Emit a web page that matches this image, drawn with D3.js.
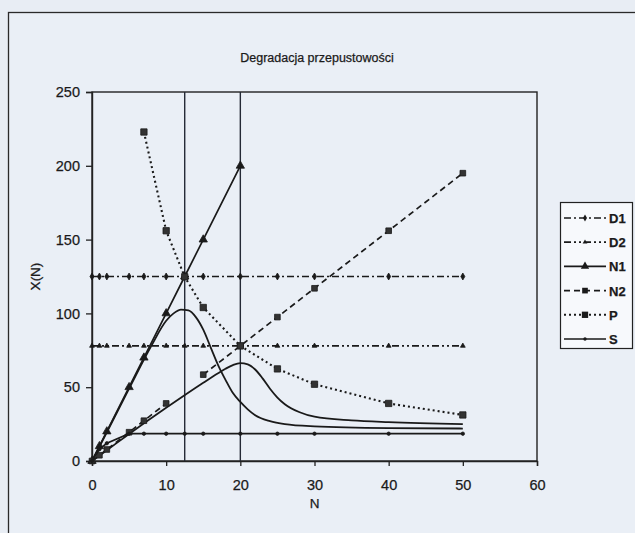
<!DOCTYPE html>
<html>
<head>
<meta charset="utf-8">
<script src="https://cdn.jsdelivr.net/npm/d3@7/dist/d3.min.js"></script>
<style>
  body { margin: 0; background: #e8edf4; }
  svg text { font-family: "Liberation Sans", Arial, sans-serif; fill: #1a1a1a; stroke: #1a1a1a; stroke-width: 0.25; }
</style>
</head>
<body>
<div id="chart"></div>
<script>
// N values shared by the marked series
const nValues = [0, 1, 2, 5, 7, 10, 12.5, 15, 20, 25, 30, 40, 50];

const d1Values = [125, 125, 125, 125, 125, 125, 125, 125, 125, 125, 125, 125, 125];
const d2Values = [78, 78, 78, 78, 78, 78, 78, 78, 78, 78, 78, 78, 78];
const n1Values = [0, 10, 20, 50, 70, 100, 125, 150, 200, null, null, null, null];
const n2Values = [0, 3.9, 7.8, 19.5, 27.3, 39, null, 58.5, 78, 97.5, 117, 156, 195];
const pValues = [null, null, null, null, 222.9, 156, 124.8, 104, 78, 62.4, 52, 39, 31.2];
const sValues = [0, 8, 12, 18.5, 18.5, 18.5, 18.5, 18.5, 18.5, 18.5, 18.5, 18.5, 18.5];

// two unlabelled smooth curves
const curveAN = [0, 2, 5, 8, 10, 11, 12, 13, 14, 15, 16, 17, 18, 19, 20, 21, 22, 24, 26, 30, 40, 50];
const curveAValues = [0, 19.5, 49, 78, 95, 100, 102.5, 102, 97.5, 89, 77, 65, 55, 46, 40, 35, 31, 27, 25, 23.5, 22.3, 22];
const curveBN = [0, 2, 5, 10, 15, 17, 18, 19, 20, 21, 22, 23, 24, 25, 26, 28, 30, 35, 40, 50];
const curveBValues = [0, 7.3, 18.3, 36, 53, 59.5, 62.5, 65, 66.3, 65.5, 62, 56, 49, 43, 38.5, 33, 30, 27.5, 26.3, 25];

const verticalLines = [12.5, 20];

const xTicks = [0, 10, 20, 30, 40, 50, 60];
const yTicks = [0, 50, 100, 150, 200, 250];

const titleText = "Degradacja przepustowości";
const xLabel = "N";
const yLabel = "X(N)";

const series = [
  {name: "D1", values: d1Values, dash: "7,3,2,3", marker: "diamond", size: 14},
  {name: "D2", values: d2Values, dash: "7,3,2,3,2,3", marker: "triangle", size: 10},
  {name: "N1", values: n1Values, dash: null, marker: "triangle", size: 30},
  {name: "N2", values: n2Values, dash: "6,4", marker: "square", size: 32},
  {name: "P", values: pValues, dash: "2,3", marker: "square", size: 40},
  {name: "S", values: sValues, dash: null, marker: "circle", size: 9}
];

const W = 635, H = 533;
const svg = d3.select("#chart").append("svg")
  .attr("width", W)
  .attr("height", H);

svg.append("rect")
  .attr("x", 8.5).attr("y", 12.5)
  .attr("width", 640).attr("height", 540)
  .attr("fill", "#eaeff6")
  .attr("stroke", "#2a2a2a")
  .attr("stroke-width", 1.3);

const x = d3.scaleLinear().domain([0, 60]).range([92, 537]);
const y = d3.scaleLinear().domain([0, 250]).range([461, 92]);

// plot frame
svg.append("rect")
  .attr("x", x(0)).attr("y", y(250))
  .attr("width", x(60) - x(0)).attr("height", y(0) - y(250))
  .attr("fill", "none")
  .attr("stroke", "#222")
  .attr("stroke-width", 1.4);

const xAxis = svg.append("g")
  .attr("transform", `translate(0,${y(0)})`)
  .call(d3.axisBottom(x).tickValues(xTicks).tickSize(5).tickPadding(14));
const yAxis = svg.append("g")
  .attr("transform", `translate(${x(0)},0)`)
  .call(d3.axisLeft(y).tickValues(yTicks).tickSize(6).tickPadding(6));

[xAxis, yAxis].forEach(g => {
  g.select(".domain").attr("stroke", "#222").attr("stroke-width", 1.4);
  g.selectAll(".tick line").attr("stroke", "#222").attr("stroke-width", 1.3);
  g.selectAll(".tick text")
    .attr("font-size", 14.5)
    .attr("font-family", "\"Liberation Sans\", Arial, sans-serif")
    .attr("fill", "#1a1a1a");
});

svg.append("text")
  .attr("x", 317).attr("y", 62)
  .attr("text-anchor", "middle")
  .attr("font-size", 12.5)
  .text(titleText);

svg.append("text")
  .attr("x", x(30)).attr("y", 508)
  .attr("text-anchor", "middle")
  .attr("font-size", 13.5)
  .text(xLabel);

svg.append("text")
  .attr("transform", `translate(40,${(y(0) + y(250)) / 2}) rotate(-90)`)
  .attr("text-anchor", "middle")
  .attr("font-size", 13.5)
  .text(yLabel);

// vertical reference lines
svg.selectAll("line.vref")
  .data(verticalLines)
  .enter()
  .append("line")
  .attr("class", "vref")
  .attr("x1", d => x(d)).attr("x2", d => x(d))
  .attr("y1", y(250)).attr("y2", y(0))
  .attr("stroke", "#252a36")
  .attr("stroke-width", 1.4);

const symbolType = {
  diamond: d3.symbolDiamond,
  triangle: d3.symbolTriangle,
  square: d3.symbolSquare,
  circle: d3.symbolCircle
};

// smooth curves
const smoothLine = d3.line()
  .x(d => x(d[0]))
  .y(d => y(d[1]))
  .curve(d3.curveMonotoneX);

[[curveAN, curveAValues], [curveBN, curveBValues]].forEach(([ns, vals]) => {
  svg.append("path")
    .datum(ns.map((n, i) => [n, vals[i]]))
    .attr("d", smoothLine)
    .attr("fill", "none")
    .attr("stroke", "#1a1a1a")
    .attr("stroke-width", 1.8);
});

const line = d3.line()
  .defined(d => d[1] != null)
  .x(d => x(d[0]))
  .y(d => y(d[1]));

series.forEach(s => {
  const pts = nValues.map((n, i) => [n, s.values[i]]);
  svg.append("path")
    .datum(pts)
    .attr("d", line)
    .attr("fill", "none")
    .attr("stroke", "#1a1a1a")
    .attr("stroke-width", s.name === "P" ? 2.1 : 1.7)
    .attr("stroke-dasharray", s.dash);

  svg.selectAll(`path.m-${s.name}`)
    .data(pts.filter(d => d[1] != null))
    .enter()
    .append("path")
    .attr("class", `m-${s.name}`)
    .attr("transform", d => `translate(${x(d[0])},${y(d[1])})`)
    .attr("d", d3.symbol().type(symbolType[s.marker]).size(s.size))
    .attr("fill", s.marker === "square" ? "#333" : "#1a1a1a")
    .attr("stroke", "#1a1a1a")
    .attr("stroke-width", 0.8);
});

// legend
const legend = svg.append("g").attr("transform", "translate(560,202)");
legend.append("rect")
  .attr("x", 0.5).attr("y", 0.5)
  .attr("width", 72).attr("height", 146)
  .attr("fill", "#f7f9fc")
  .attr("stroke", "#222")
  .attr("stroke-width", 1.2);

const item = legend.selectAll("g.item")
  .data(series)
  .enter()
  .append("g")
  .attr("class", "item")
  .attr("transform", (d, i) => `translate(0,${16 + i * 24.2})`);

item.append("line")
  .attr("x1", 4).attr("x2", 46)
  .attr("y1", 0).attr("y2", 0)
  .attr("stroke", "#1a1a1a")
  .attr("stroke-width", d => d.name === "P" ? 2.1 : 1.7)
  .attr("stroke-dasharray", d => d.dash);

item.append("path")
  .attr("transform", "translate(25,0)")
  .attr("d", d => d3.symbol().type(symbolType[d.marker]).size(d.size)())
  .attr("fill", "#1a1a1a");

item.append("text")
  .attr("x", 49).attr("y", 5)
  .attr("font-size", 13)
  .attr("font-weight", "bold")
  .text(d => d.name);
</script>
</body>
</html>
